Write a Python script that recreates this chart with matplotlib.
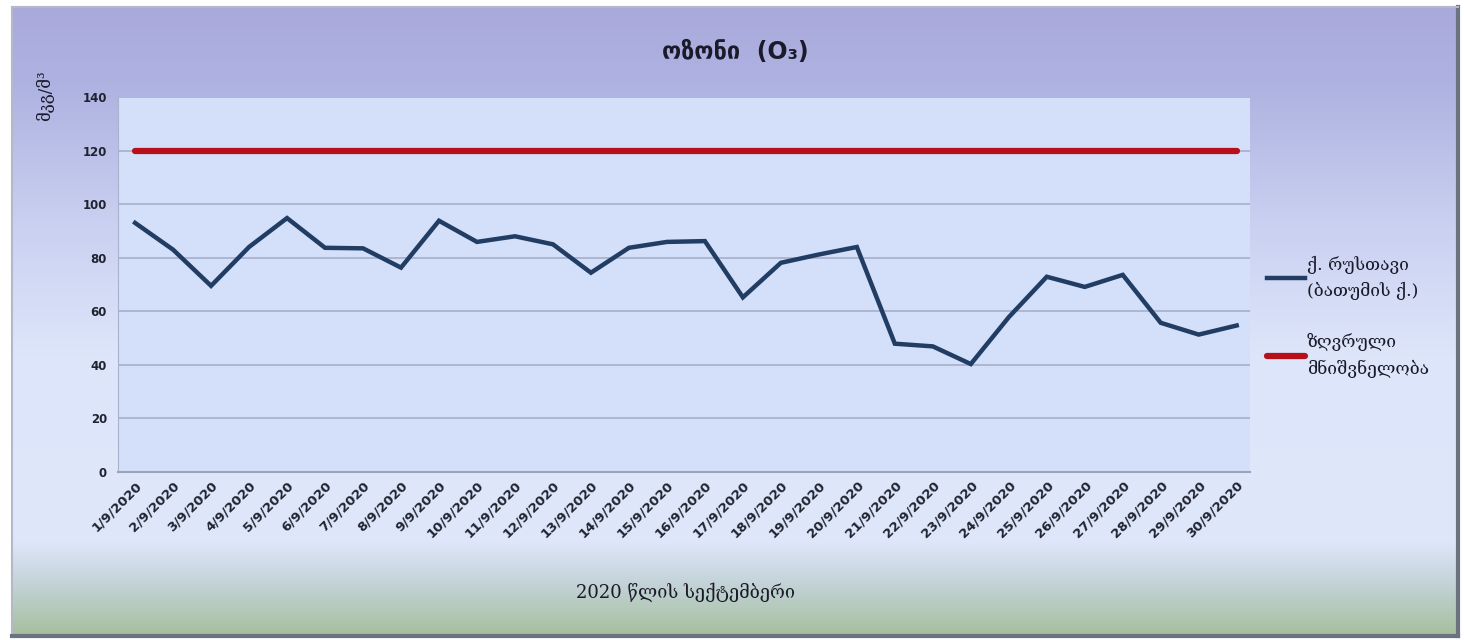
import numpy as np
import matplotlib
matplotlib.use("Agg")
import matplotlib.pyplot as plt
from matplotlib.colors import LinearSegmentedColormap

dates = [f"{d}/9/2020" for d in range(1, 31)]
rustavi = [93, 83, 69.5, 84, 94.8, 83.7, 83.5, 76.3, 93.8, 85.9,
           88, 85, 74.4, 83.7, 85.9, 86.2, 65.2, 78.1, 81.2, 84,
           47.9, 46.9, 40.3, 57.8, 72.9, 69.1, 73.6, 55.7, 51.3, 54.7]
limit = [120] * 30

title = "ოზონი  (O₃)"
ylabel = "მკგ/მ³"
xlabel = "2020 წლის სექტემბერი"
labels = ["ქ. რუსთავი\n(ბათუმის ქ.)", "ზღვრული\nმნიშვნელობა"]

W, H = 1464, 640
fig = plt.figure(figsize=(W / 100, H / 100), dpi=100)
fig.patch.set_facecolor("white")

# gradient background inside the chart frame
fx0, fy0, fx1, fy1 = 12 / W, 1 - 636 / H, 1458 / W, 1 - 7 / H
bg = fig.add_axes([fx0, fy0, fx1 - fx0, fy1 - fy0], zorder=-5)
cmap = LinearSegmentedColormap.from_list("bg", [
    (0.0, "#a9aadb"), (0.12, "#aeb2e1"), (0.35, "#cad1f1"),
    (0.55, "#dde5fa"), (0.85, "#dfe7fb"), (0.91, "#c6d5dc"), (1.0, "#a6bf9f")])
grad = np.linspace(0, 1, 256).reshape(-1, 1)
bg.imshow(grad, aspect="auto", cmap=cmap, extent=[0, 1, 0, 1], origin="upper")
bg.set_xlim(0, 1)
bg.set_ylim(0, 1)
bg.set_xticks([])
bg.set_yticks([])
for side, sp in bg.spines.items():
    sp.set_color("#6d7280" if side in ("right", "bottom") else "#b4b8c8")
    sp.set_linewidth(3 if side in ("right", "bottom") else 1.5)

ax = fig.add_axes([118 / W, 1 - 472 / H, (1250 - 118) / W, (472 - 97) / H])
ax.set_facecolor("#d4dff9")
x = np.arange(len(dates))
ax.plot(x, rustavi, color="#213d63", lw=3.2, label=labels[0], solid_joinstyle="miter")
ax.plot(x, limit, color="#b8101a", lw=4.5, label=labels[1], solid_capstyle="round")

ax.set_xlim(-0.45, len(dates) - 1 + 0.35)
ax.set_ylim(0, 140)
ax.set_yticks(range(0, 141, 20))
ax.yaxis.grid(True, color="#a7b0c9", lw=1.2)
ax.set_axisbelow(True)
ax.set_xticks(x)
ax.set_xticklabels(dates, rotation=45, ha="right", rotation_mode="anchor",
                   fontsize=9.5, fontweight="bold", color="#1f2430")
for lab in ax.get_yticklabels():
    lab.set_fontsize(8.5)
    lab.set_fontweight("bold")
    lab.set_color("#1f2430")
ax.tick_params(axis="both", length=0, pad=8)
ax.tick_params(axis="x", pad=5)
for side in ("top", "right"):
    ax.spines[side].set_visible(False)
ax.spines["left"].set_color("#a9b1cc")
ax.spines["bottom"].set_color("#9aa3bb")
ax.spines["bottom"].set_linewidth(1.5)

fig.text(735 / W, 1 - 52 / H, title, ha="center", va="center", fontsize=17,
         fontweight="bold", color="#1a1a2a")
fig.text(45 / W, 1 - 96 / H, ylabel, rotation=90, ha="center", va="center",
         fontsize=12, color="#1a1a2a", family=["DejaVu Serif"])
fig.text(685 / W, 1 - 592 / H, xlabel, ha="center", va="center",
         fontsize=13, color="#1a1a2a", family=["DejaVu Serif"])

leg = fig.legend(loc="upper left", bbox_to_anchor=(1251 / W, 1 - 240 / H),
                 frameon=False, handlelength=2.2, handletextpad=0.1,
                 labelspacing=1.9, prop={"family": "DejaVu Serif", "size": 12.5})
for t in leg.get_texts():
    t.set_color("#1a1a2a")
    t.set_linespacing(1.6)

fig.savefig("out.png", dpi=100, facecolor="white")
